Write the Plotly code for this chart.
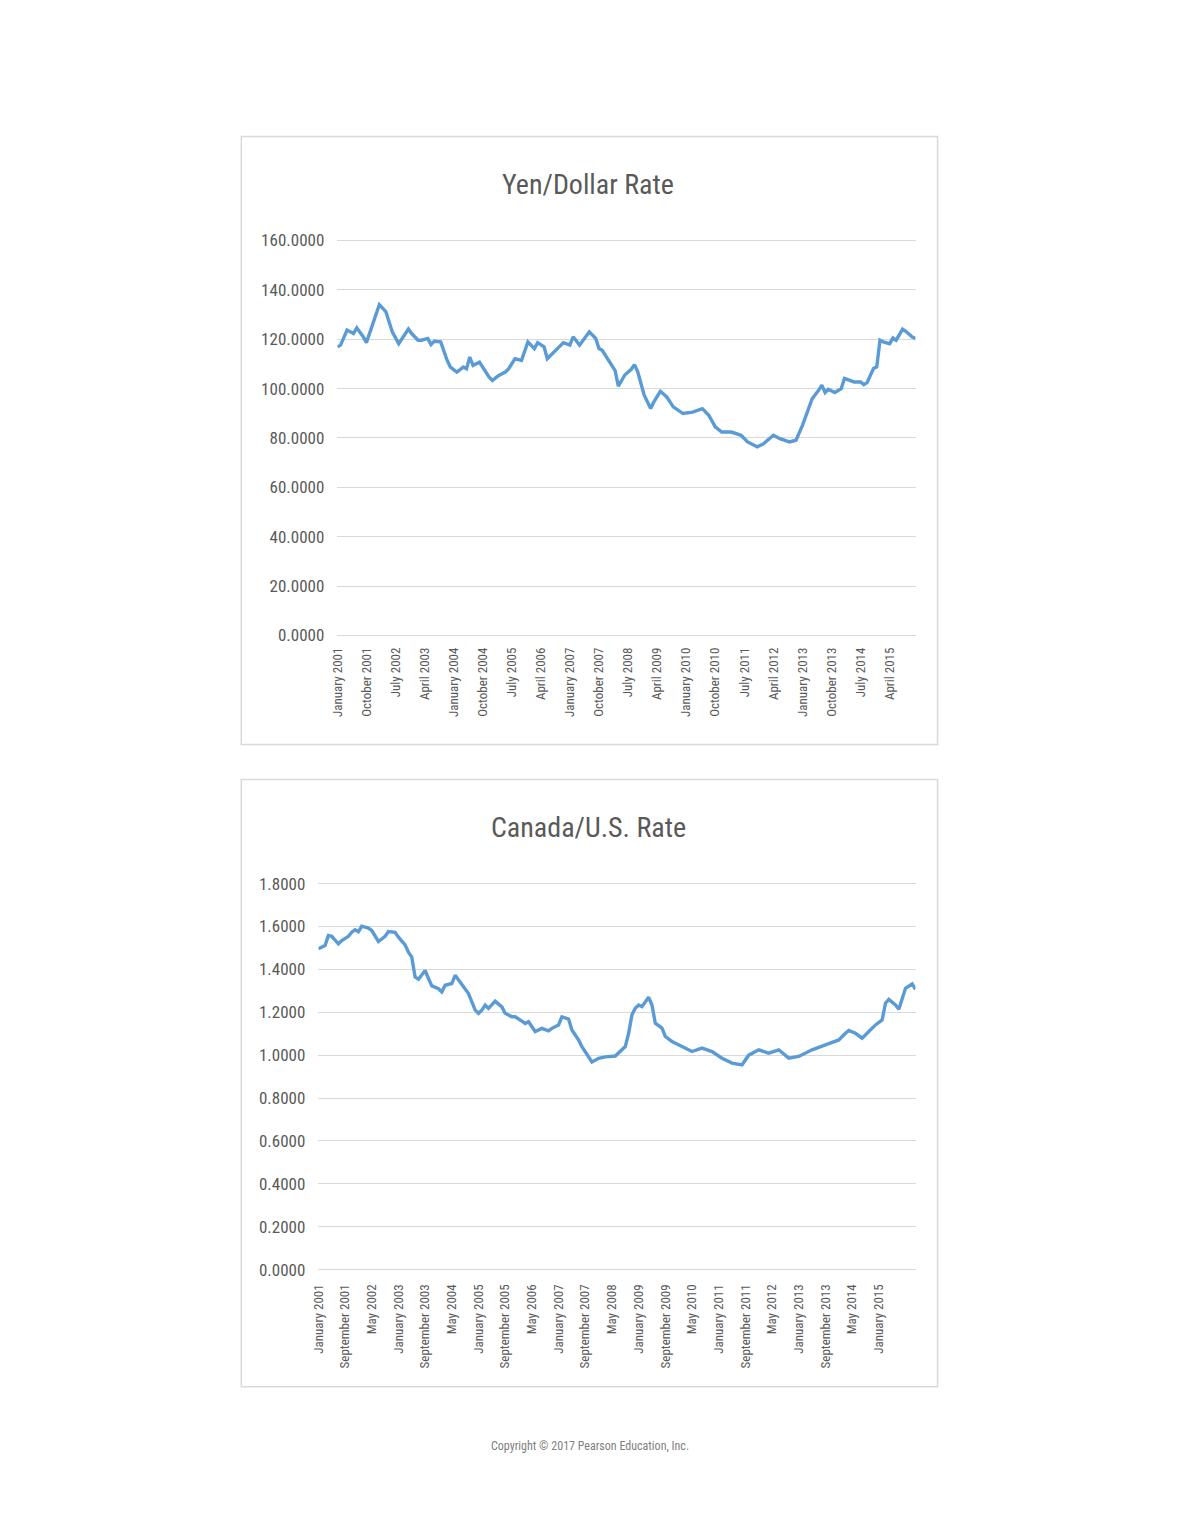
import plotly.graph_objects as go
from plotly.subplots import make_subplots

# month index counted from January 2001
yen_month = [0, 1, 3, 5, 6, 8, 9, 10, 11, 13, 15, 16, 17, 19, 22, 23, 25, 26, 28, 29,
             30, 32, 34, 35, 37, 39, 40, 41, 42, 44, 45, 47, 48, 50, 52, 53, 55, 57, 59, 61,
             62, 64, 65, 67, 68, 70, 72, 73, 75, 78, 80, 81, 82, 84, 86, 87, 89, 91, 92, 93,
             95, 97, 98, 100, 102, 104, 107, 110, 113, 115, 117, 119, 122, 125, 127, 130, 132, 135, 137, 140,
             142, 144, 147, 149, 150, 151, 152, 154, 156, 157, 159, 160, 162, 163, 164, 166, 167, 168, 169, 171,
             172, 173, 175, 176, 178, 179]
yen_rate = [116.9, 117.6, 123.7, 122.3, 124.6, 121.0, 118.6, 122.3, 125.7, 134.0, 131.2, 127.1, 123.0, 118.2, 124.1, 122.3, 119.6, 119.6, 120.3, 117.8,
            119.2, 118.9, 111.4, 108.7, 106.7, 108.7, 108.0, 112.8, 109.4, 110.7, 108.7, 104.6, 103.3, 105.3, 106.7, 108.0, 112.1, 111.4, 118.9, 116.2,
            118.6, 116.9, 112.1, 114.8, 115.8, 118.6, 117.6, 121.0, 117.6, 123.0, 120.3, 116.2, 115.5, 111.4, 107.3, 101.0, 105.5, 107.8, 109.7, 106.8,
            97.3, 91.9, 94.6, 98.9, 96.6, 92.6, 89.9, 90.5, 91.9, 89.2, 84.5, 82.4, 82.4, 81.1, 78.4, 76.4, 77.7, 81.1, 79.7, 78.4,
            79.1, 85.1, 95.9, 99.3, 101.4, 98.4, 99.7, 98.4, 100.0, 104.1, 103.4, 102.7, 102.7, 101.6, 102.4, 108.1, 108.8, 119.6, 118.9, 118.2,
            120.5, 119.6, 124.1, 123.2, 120.9, 120.3]

cad_month = [0, 2, 3, 4, 6, 7, 9, 10, 11, 12, 13, 15, 16, 17, 18, 20, 21, 23, 24, 26,
             27, 28, 29, 30, 32, 33, 34, 36, 37, 38, 40, 41, 42, 44, 45, 47, 48, 49, 50, 51,
             53, 55, 56, 58, 59, 61, 62, 63, 64, 65, 67, 69, 70, 72, 73, 75, 76, 78, 79, 80,
             82, 84, 86, 89, 92, 93, 94, 95, 96, 97, 98, 99, 100, 101, 103, 104, 106, 109, 112, 115,
             118, 121, 124, 127, 129, 132, 135, 138, 141, 144, 148, 152, 156, 158, 159, 161, 163, 165, 167, 169,
             170, 171, 173, 174, 175, 176, 178, 179]
cad_rate = [1.496, 1.511, 1.558, 1.554, 1.519, 1.534, 1.554, 1.573, 1.585, 1.576, 1.601, 1.592, 1.581, 1.554, 1.530, 1.554, 1.576, 1.573, 1.550, 1.514,
            1.480, 1.457, 1.364, 1.354, 1.395, 1.357, 1.323, 1.310, 1.295, 1.326, 1.334, 1.372, 1.349, 1.310, 1.287, 1.210, 1.195, 1.210, 1.233, 1.218,
            1.252, 1.225, 1.195, 1.179, 1.179, 1.159, 1.148, 1.156, 1.133, 1.110, 1.125, 1.113, 1.125, 1.141, 1.179, 1.168, 1.117, 1.071, 1.040, 1.015,
            0.968, 0.985, 0.992, 0.996, 1.040, 1.102, 1.188, 1.219, 1.234, 1.226, 1.250, 1.270, 1.234, 1.149, 1.126, 1.087, 1.064, 1.040, 1.017, 1.033,
            1.017, 0.986, 0.963, 0.955, 1.000, 1.025, 1.009, 1.025, 0.986, 0.994, 1.025, 1.048, 1.071, 1.102, 1.115, 1.102, 1.079, 1.110, 1.141, 1.164,
            1.242, 1.260, 1.234, 1.214, 1.265, 1.312, 1.332, 1.307]

yen_tick_pos = [0, 9, 18, 27, 36, 45, 54, 63, 72, 81, 90, 99, 108, 117, 126, 135, 144, 153, 162, 171]
yen_tick_text = ["January 2001", "October 2001", "July 2002", "April 2003", "January 2004",
                 "October 2004", "July 2005", "April 2006", "January 2007", "October 2007",
                 "July 2008", "April 2009", "January 2010", "October 2010", "July 2011",
                 "April 2012", "January 2013", "October 2013", "July 2014", "April 2015"]
cad_tick_pos = [0, 8, 16, 24, 32, 40, 48, 56, 64, 72, 80, 88, 96, 104, 112, 120, 128, 136, 144, 152, 160, 168]
cad_tick_text = ["January 2001", "September 2001", "May 2002", "January 2003", "September 2003",
                 "May 2004", "January 2005", "September 2005", "May 2006", "January 2007",
                 "September 2007", "May 2008", "January 2009", "September 2009", "May 2010",
                 "January 2011", "September 2011", "May 2012", "January 2013", "September 2013",
                 "May 2014", "January 2015"]

W, H = 1180, 1527
FONT = "Liberation Sans Narrow, Roboto Condensed, Arial Narrow, sans-serif"
BLUE = "#5B9BD5"
GREY = "#595959"
GRID = "#D9D9D9"

def px(x):
    return x / W

def py(y):
    return 1 - y / H

fig = make_subplots(rows=2, cols=1)

fig.add_trace(go.Scatter(x=yen_month, y=yen_rate, mode="lines",
                         line=dict(color=BLUE, width=3.4), showlegend=False), row=1, col=1)
fig.add_trace(go.Scatter(x=cad_month, y=cad_rate, mode="lines",
                         line=dict(color=BLUE, width=3.4), showlegend=False), row=2, col=1)

axis_common = dict(showline=False, ticks="", color=GREY)

fig.update_layout(
    width=W, height=H,
    margin=dict(l=0, r=0, t=0, b=0),
    paper_bgcolor="white", plot_bgcolor="white",
    font=dict(family=FONT, color=GREY),
    xaxis=dict(domain=[px(331.6), px(913.7)], range=[0, 179], showgrid=False, zeroline=False,
               tickmode="array", tickvals=yen_tick_pos, ticktext=yen_tick_text,
               tickangle=-90, tickfont=dict(size=13, color=GREY), ticklabelstandoff=6,
               **axis_common),
    yaxis=dict(domain=[py(636.5), py(229.2)], range=[-1, 162], dtick=20, tickformat=".4f",
               gridcolor=GRID, gridwidth=1, zeroline=True, zerolinecolor=GRID, zerolinewidth=1,
               tickfont=dict(size=17, color=GREY), ticklabelstandoff=12, **axis_common),
    xaxis2=dict(domain=[px(312.5), px(913.7)], range=[0, 179], showgrid=False, zeroline=False,
                tickmode="array", tickvals=cad_tick_pos, ticktext=cad_tick_text,
                tickangle=-90, tickfont=dict(size=13, color=GREY), ticklabelstandoff=10,
                **axis_common),
    yaxis2=dict(domain=[py(1276.8), py(883.9)], range=[-0.005, 1.805], dtick=0.2, tickformat=".4f",
                gridcolor=GRID, gridwidth=1, zeroline=True, zerolinecolor=GRID, zerolinewidth=1,
                tickfont=dict(size=17, color=GREY), ticklabelstandoff=12, **axis_common),
)

# chart frames
for top, bottom in [(128.9, 744.3), (779.8, 1394.1)]:
    fig.add_shape(type="rect", xref="paper", yref="paper",
                  x0=px(234.9), x1=px(935.9), y0=py(bottom), y1=py(top),
                  line=dict(color="#D9D9D9", width=1.5), layer="below")

fig.add_annotation(text="Yen/Dollar Rate", xref="paper", yref="paper",
                   x=px(584.4), y=py(177.5), xanchor="center", yanchor="middle", showarrow=False,
                   font=dict(size=28, color=GREY, family=FONT))
fig.add_annotation(text="Canada/U.S. Rate", xref="paper", yref="paper",
                   x=px(584.4), y=py(828.3), xanchor="center", yanchor="middle", showarrow=False,
                   font=dict(size=28, color=GREY, family=FONT))
fig.add_annotation(text="Copyright © 2017 Pearson Education, Inc.", xref="paper", yref="paper",
                   x=px(586.4), y=py(1453.8), xanchor="center", yanchor="middle", showarrow=False,
                   font=dict(size=12, color="#808080", family=FONT))

fig.write_html("out.html", config={"displayModeBar": False},
               post_script="document.body.style.margin='0';")
